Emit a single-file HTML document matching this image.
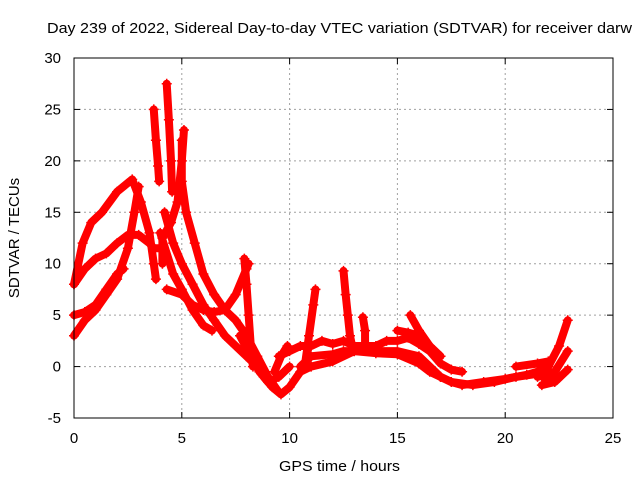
<!DOCTYPE html>
<html><head><meta charset="utf-8"><style>
body{margin:0;background:#fff;}
svg{display:block;font-family:"Liberation Sans",sans-serif;}
</style></head><body>
<svg id="chart" width="640" height="480" viewBox="0 0 640 480">
<text x="47" y="33" font-size="15" textLength="585" lengthAdjust="spacingAndGlyphs">Day 239 of 2022, Sidereal Day-to-day VTEC variation (SDTVAR) for receiver darw</text>
<text x="279" y="471" font-size="15" textLength="121" lengthAdjust="spacingAndGlyphs">GPS time / hours</text>
<text transform="translate(19,238) rotate(-90)" font-size="15" text-anchor="middle">SDTVAR / TECUs</text>
<g id="grid"></g><g id="ticks"></g><g id="marks"></g>
<rect x="74" y="58" width="539" height="360" fill="none" stroke="#000" stroke-width="1"/>
</svg>
<script>
const xTicks=[0,5,10,15,20,25];
const yTicks=[-5,0,5,10,15,20,25,30];
const s1=[[0,8],[0.4,12],[0.8,14],[1.3,15],[2,17],[2.7,18.2],[3.1,16],[3.5,13],[3.7,10],[3.8,8.5]];
const s2=[[0,3],[0.5,4.5],[1,5.5],[1.5,7],[2,8.5],[2.5,11.5],[2.8,15],[3,17.5]];
const s3=[[0,5],[0.5,5.3],[1,6],[1.5,7.5],[2,9],[2.3,9.5]];
const s4=[[0,8],[0.5,9.5],[1,10.5],[1.5,11],[2,12],[2.5,12.8],[3,12.8],[3.5,12],[3.7,11.5],[4,11.5]];
const s5=[[3.7,25],[3.8,22],[3.9,19.5],[3.95,18]];
const s6=[[4.3,27.5],[4.4,24],[4.5,20],[4.55,17]];
const s7=[[5.1,23],[5,20],[4.8,16],[4.5,14],[4.1,12.5],[4.1,10]];
const s8=[[5,22],[5,18],[5.2,15],[5.6,12],[6,9],[6.5,7],[7,5.5],[7.5,4.5],[8,3],[8.5,1],[9,-1],[9.5,-2.5]];
const s9=[[4.2,15],[4.6,12],[5,10],[5.5,8],[6,6],[6.5,4.5],[7,3],[7.5,2],[8,1],[8.5,0]];
const s10=[[4,13],[4.6,9],[5,7.5],[5.5,5.5],[6,4],[6.4,3.5]];
const s11=[[4.3,7.5],[5,7],[5.5,6],[6,5.5],[6.5,5.3],[7,5.5],[7.5,7],[8,9.5],[8.1,10]];
const s12=[[7.9,10.5],[8,8],[8.1,5],[8.2,2],[8.3,0]];
const s13=[[8.8,-1],[9.2,-2],[9.6,-2.7],[10,-2],[10.5,-0.5],[11,0],[12,0.5],[13,1.5],[14,1.5],[15,1.5],[16,1],[16.5,0],[17,-1],[17.5,-1.5],[18,-1.8],[19,-1.5],[20,-1.2],[21,-0.8],[21.5,-0.5],[22,-1.5],[22.3,-1]];
const s14=[[9.5,1],[10,1.5],[10.5,2],[11,2],[11.5,2.5],[12,2.2],[12.5,2.5],[13,2],[13.5,2],[14,2],[14.5,2.5],[15,2.5],[15.5,2.8],[16,2.2],[16.5,1.5],[17,0.3],[17.5,-0.3],[18,-0.5]];
const s15=[[10.7,0],[10.9,3],[11.1,6],[11.2,7.5]];
const s16=[[10.5,0],[11,1],[12,1.2],[12.5,1.5],[13,1.5],[14,1.3],[15,1.2],[16,0.3],[16.5,-0.5],[17,-1],[17.5,-1.5],[18.5,-1.8],[19.5,-1.5],[20.5,-1],[21.5,-0.7]];
const s17=[[12.5,9.3],[12.6,7],[12.7,5],[12.8,3],[12.9,2]];
const s18=[[13.4,4.8],[13.5,3.5],[13.5,2]];
const s19=[[15,3.5],[15.5,3.3],[16,3],[16.5,2],[17,1]];
const s20=[[15.6,5],[16,3.5],[16.5,2]];
const s21=[[21.5,-0.5],[22,0],[22.5,2],[22.9,4.5]];
const s22=[[21.5,-1],[22.3,-0.5],[22.9,1.5]];
const s23=[[21.7,-1.8],[22.3,-1.5],[22.9,-0.3]];
const s24=[[20.5,0],[21.5,0.3],[22,0.5]];
const s25=[[7.7,3],[8.2,1],[8.6,-0.5],[9,-1.5],[9.5,-1],[10,0]];
const s26=[[9.3,-0.5],[9.6,1],[9.9,2]];
const series=[s1,s2,s3,s4,s5,s6,s7,s8,s9,s10,s11,s12,s13,s14,s15,s16,s17,s18,s19,s20,s21,s22,s23,s24,s25,s26];
const NS="http://www.w3.org/2000/svg";
const X=h=>74+h*(539/25);
const Y=v=>58+(30-v)*(360/35);
function mk(t,a,p){const e=document.createElementNS(NS,t);for(const k in a)e.setAttribute(k,a[k]);p.appendChild(e);return e;}
const grid=document.getElementById('grid'),ticks=document.getElementById('ticks'),marks=document.getElementById('marks');
xTicks.forEach(t=>{
  const x=X(t);
  if(t>0&&t<25){const g=mk('line',{x1:x,x2:x,y1:58,y2:418,stroke:'#a0a0a0','stroke-dasharray':'2,3'},grid);
  
  }
  mk('line',{x1:x,x2:x,y1:418,y2:412,stroke:'#000'},ticks);
  mk('line',{x1:x,x2:x,y1:58,y2:64,stroke:'#000'},ticks);
  const l=mk('text',{x:x,y:443,'font-size':15,'text-anchor':'middle'},ticks);l.textContent=t;
  
  
});
yTicks.forEach(t=>{
  const y=Y(t);
  if(t>-5&&t<30){const g=mk('line',{x1:74,x2:613,y1:y,y2:y,stroke:'#a0a0a0','stroke-dasharray':'2,3'},grid);
  
  }
  mk('line',{x1:74,x2:80,y1:y,y2:y,stroke:'#000'},ticks);
  mk('line',{x1:613,x2:607,y1:y,y2:y,stroke:'#000'},ticks);
  const l=mk('text',{x:61,y:y+5,'font-size':15,'text-anchor':'end'},ticks);l.textContent=t;
  
  
});
series.forEach((s,i)=>{
  const pl=mk('polyline',{points:s.map(p=>X(p[0])+','+Y(p[1])).join(' '),fill:'none',stroke:'#ff0000','stroke-width':8,'stroke-linejoin':'round','stroke-linecap':'round'},marks);
  
  
  s.forEach(p=>{
    const x=X(p[0]),y=Y(p[1]);
    const m=mk('path',{d:`M${x-5},${y}H${x+5}M${x},${y-5}V${y+5}`,stroke:'#ff0000','stroke-width':1.5},marks);
    
    
  });
});
</script>
</body></html>
